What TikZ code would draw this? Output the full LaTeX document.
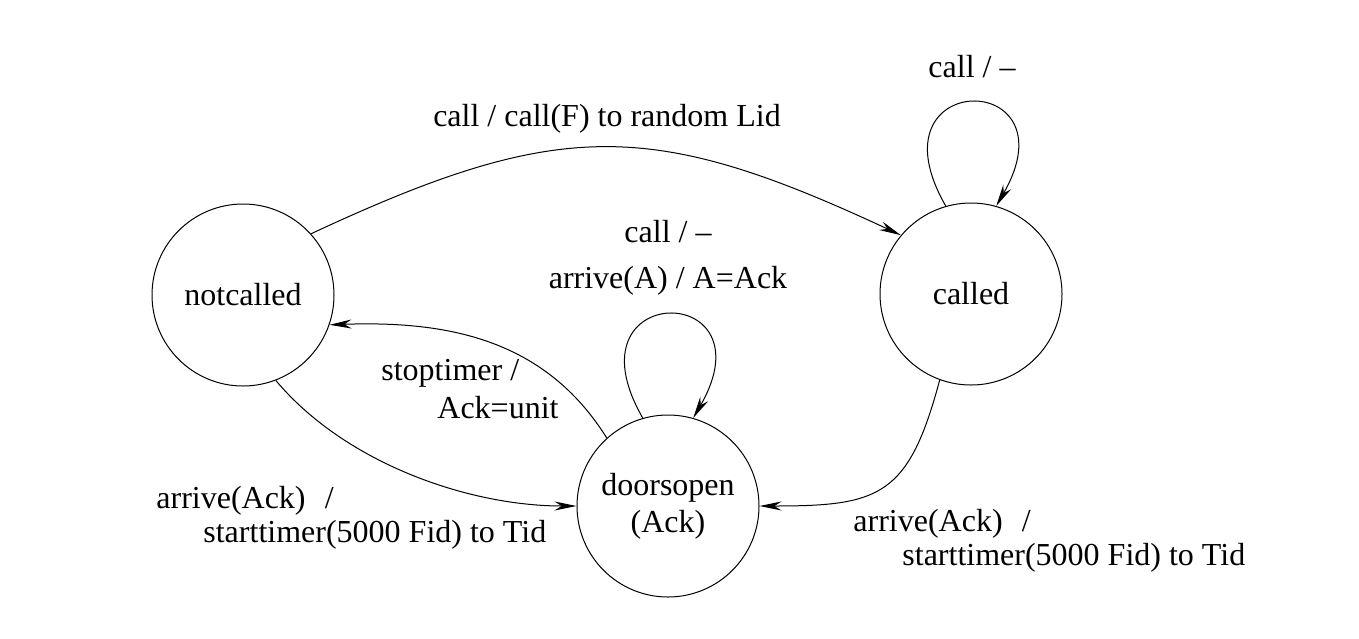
\documentclass[tikz,border=0pt]{standalone}
\usepackage{fontspec}
\setmainfont{Liberation Serif}
\usetikzlibrary{arrows.meta}
\tikzset{
STATE/.style={draw=black,circle,line width=0.5pt,minimum size=91pt,inner sep=0pt,align=center},
ARC/.style={draw=black,line width=0.5pt,-{Stealth[length=11pt,width=4.5pt]}},
LOOP/.style={out=120,in=60,looseness=8.1},
TEXTLABEL/.style={inner sep=0pt,font=\fontsize{16}{#1}\selectfont,align=left,anchor=west},
TEXTLABEL/.default=17,
}
\begin{document}
\begin{tikzpicture} %door controller
[x=0.5pt, y=0.5pt, font=\fontsize{16}{18.5}\selectfont]
	\useasboundingbox (0,0) rectangle (1359,-638);
	\node[STATE] (notcalled) at (243,-295) {notcalled};
	\node[STATE] (called) at (971,-294) {called};
	\node[STATE] (doorsopen) at (668,-506) {doorsopen\\(Ack)};
	\path[ARC] (notcalled.42) to[out=25,in=155,looseness=1.19] (called.140);
	\path[ARC] (called.106) to[LOOP] (called.74);
	\path[ARC] (doorsopen.106) to[LOOP] (doorsopen.74);
	\path[ARC] (doorsopen.132) to[out=122,in=2] (notcalled.-19);
	\path[ARC] (notcalled.-69) to[out=-50,in=180,looseness=0.85] (doorsopen.west);
	\path[ARC] (called.-110) to[out=-105,in=0,looseness=1.4] (doorsopen.east);
	\node (lblcall) at (607,-119) {call / call(F) to random Lid};
	\node (lblcalledloop) at (972,-67) {call / --};
	\node (lbldoorcall) at (668,-232) {call / --};
	\node (lbldoorarrive) at (668,-281) {arrive(A) / A=Ack};
	\node[TEXTLABEL=19] (lblstop) at (381,-389) {stoptimer /\\\hspace*{28pt}Ack=unit};
	\node[TEXTLABEL=17] (lblstartleft) at (156,-518) {arrive(Ack)\hspace{0.6em}/\\\hspace*{23.5pt}starttimer(5000 Fid) to Tid};
	\node[TEXTLABEL=17] (lblstartright) at (853,-541) {arrive(Ack)\hspace{0.6em}/\\\hspace*{24.5pt}starttimer(5000 Fid) to Tid};
\end{tikzpicture}
\end{document}
